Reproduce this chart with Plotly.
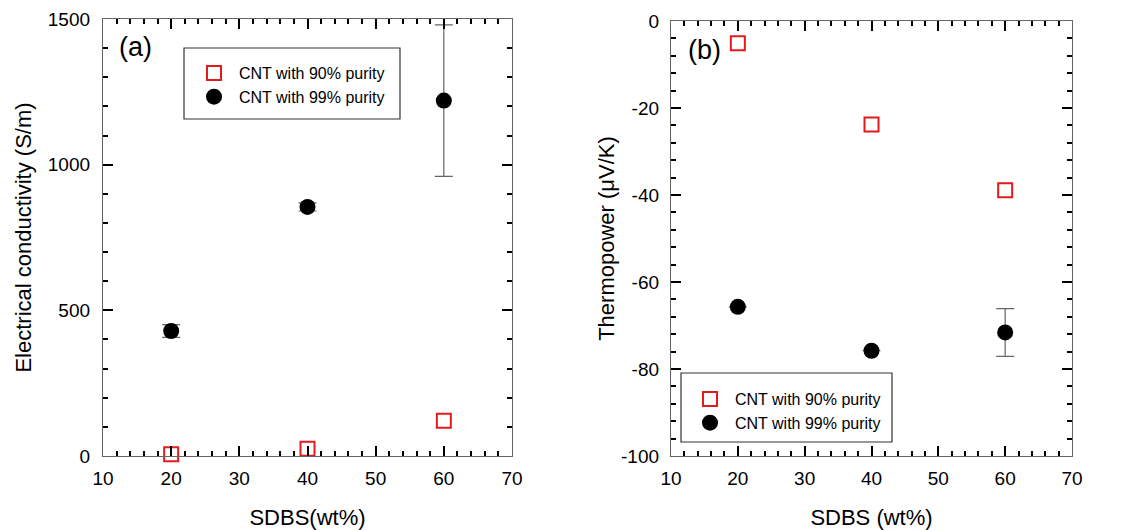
import plotly.graph_objects as go

sdbs = [20, 40, 60]
sigma_90 = [6, 25, 121]
sigma_99 = [429, 855, 1220]
sigma_99_err = [22, 14, 260]
S_90 = [-5.1, -23.8, -38.9]
S_99 = [-65.7, -75.8, -71.6]
S_99_err = [0, 0, 5.5]
name_90 = "CNT with 90% purity"
name_99 = "CNT with 99% purity"
S_ticks = [-100, -80, -60, -40, -20, 0]
S_ticklabels = ["-100", "-80", "-60", "-40", "-20", "0"]

FONT = "Liberation Sans, Arial, sans-serif"
fig = go.Figure()

sq = dict(symbol="square-open", size=14, color="#e41a1c", line=dict(width=2, color="#e41a1c"))
ci = dict(symbol="circle", size=16, color="black")
err_style = dict(type="data", thickness=1.2, width=9, color="#666")

fig.add_trace(go.Scatter(x=sdbs, y=sigma_90, mode="markers", marker=sq, name=name_90,
                         cliponaxis=False, xaxis="x", yaxis="y", legend="legend"))
fig.add_trace(go.Scatter(x=sdbs, y=sigma_99, mode="markers", marker=ci, name=name_99,
                         error_y=dict(array=sigma_99_err, **err_style), cliponaxis=False,
                         xaxis="x", yaxis="y", legend="legend"))
fig.add_trace(go.Scatter(x=sdbs, y=S_90, mode="markers", marker=sq, name=name_90,
                         cliponaxis=False, xaxis="x2", yaxis="y2", legend="legend2"))
fig.add_trace(go.Scatter(x=sdbs, y=S_99, mode="markers", marker=ci, name=name_99,
                         error_y=dict(array=S_99_err, **err_style), cliponaxis=False,
                         xaxis="x2", yaxis="y2", legend="legend2"))

# page has an 8px body margin; figure occupies the rest of the window
OFF = 8
W, H = 1131 - 2 * OFF, 530 - OFF
def px(x):
    return (x - OFF) / W
def py(y):
    return 1 - (y - OFF) / H

axcommon = dict(showline=True, linecolor="#666", linewidth=1.3, mirror="allticks",
                ticks="inside", ticklen=10, tickwidth=2, tickcolor="black",
                showgrid=False, zeroline=False, automargin=False,
                tickfont=dict(family=FONT, size=19, color="black"),
                title_font=dict(family=FONT, size=22, color="black"))
minor = dict(ticklen=5, tickwidth=2, ticks="inside", tickcolor="black", showgrid=False)

xcommon = dict(axcommon, range=[10, 70], dtick=10, tick0=10, ticklabelstandoff=5,
               minor=dict(minor, dtick=2))

fig.update_layout(
    width=W, height=H, margin=dict(l=0, r=0, t=0, b=0),
    plot_bgcolor="white", paper_bgcolor="white", showlegend=True,
    xaxis=dict(xcommon, domain=[px(103), px(512)], anchor="y",
               title=dict(text="SDBS(wt%)", standoff=22)),
    yaxis=dict(axcommon, domain=[py(456), py(19)], anchor="x", range=[0, 1500], dtick=500,
               ticklabelstandoff=8, minor=dict(minor, dtick=100),
               title=dict(text="Electrical conductivity (S/m)", standoff=10)),
    xaxis2=dict(xcommon, domain=[px(671), px(1072)], anchor="y2",
                title=dict(text="SDBS (wt%)", standoff=22)),
    yaxis2=dict(axcommon, domain=[py(456), py(21)], anchor="x2", range=[-100, 0],
                tickmode="array", tickvals=S_ticks, ticktext=S_ticklabels,
                ticklabelstandoff=7, minor=dict(minor, dtick=4, tick0=0),
                title=dict(text="Thermopower (μV/K)", standoff=0)),
    legend=dict(x=px(189), y=py(56), xanchor="left", yanchor="top",
                borderwidth=0, bgcolor="rgba(0,0,0,0)",
                font=dict(family=FONT, size=16, color="black"),
                tracegroupgap=0, itemwidth=40),
    legend2=dict(x=px(685), y=py(382), xanchor="left", yanchor="top",
                 borderwidth=0, bgcolor="rgba(0,0,0,0)",
                 font=dict(family=FONT, size=16, color="black"),
                 tracegroupgap=0, itemwidth=40),
    shapes=[
        dict(type="rect", xref="paper", yref="paper", x0=px(184), x1=px(400),
             y0=py(119), y1=py(48), line=dict(color="#333", width=1.2),
             fillcolor="white", layer="below"),
        dict(type="rect", xref="paper", yref="paper", x0=px(681), x1=px(892),
             y0=py(442), y1=py(373), line=dict(color="#333", width=1.2),
             fillcolor="white", layer="above"),
    ],
    annotations=[
        dict(text="(a)", x=px(117), y=py(47), xref="paper", yref="paper",
             xanchor="left", yanchor="middle", showarrow=False,
             font=dict(family=FONT, size=27, color="black")),
        dict(text="(b)", x=px(686), y=py(50), xref="paper", yref="paper",
             xanchor="left", yanchor="middle", showarrow=False,
             font=dict(family=FONT, size=27, color="black")),
    ],
)

fig.write_html("out.html")
